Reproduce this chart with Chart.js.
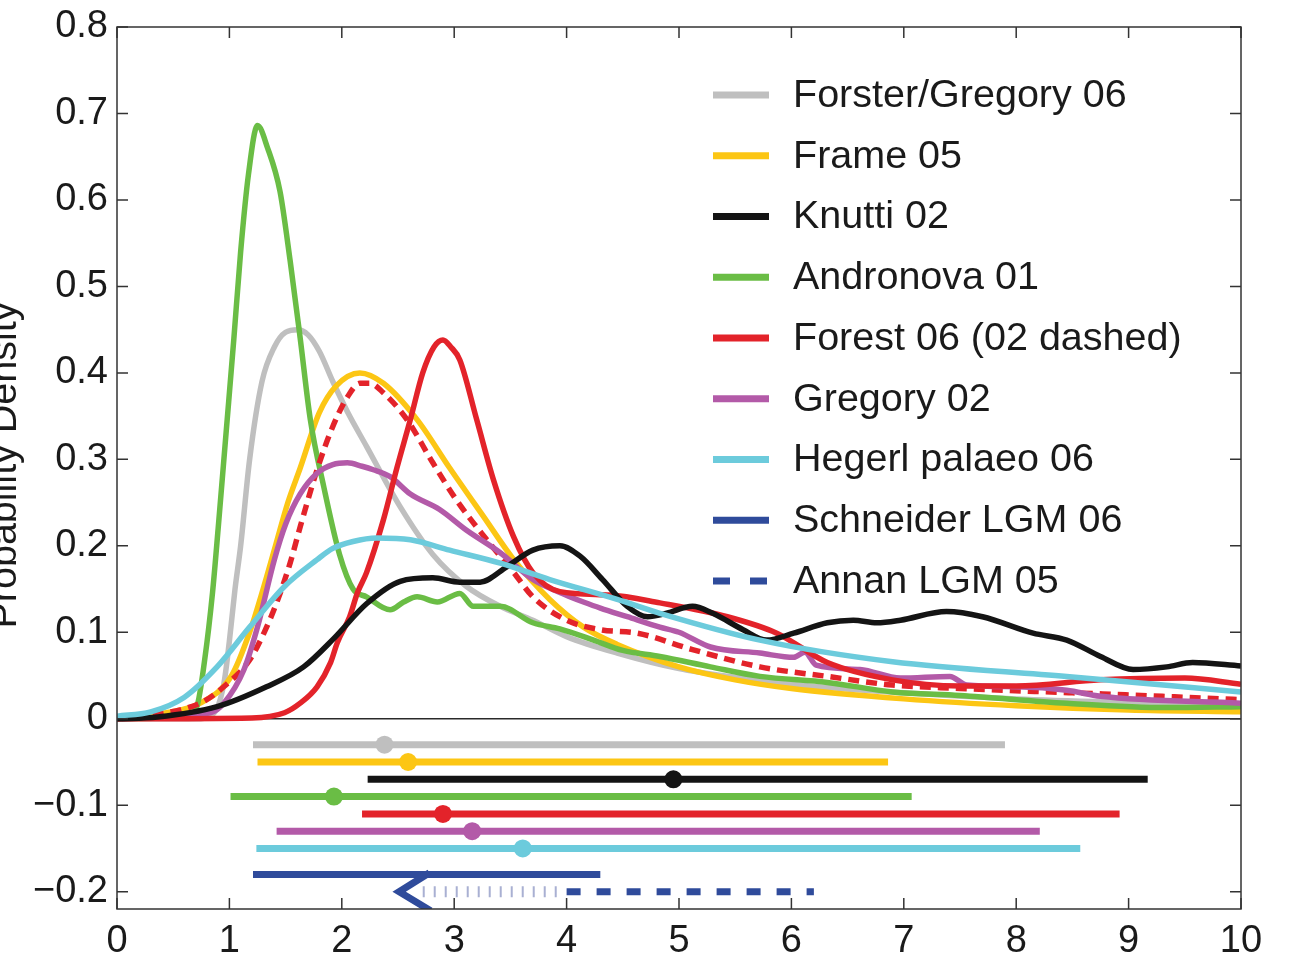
<!DOCTYPE html>
<html>
<head>
<meta charset="utf-8">
<script src="https://cdn.jsdelivr.net/npm/chart.js@4.4.0/dist/chart.umd.min.js"></script>
<style>
  html, body { margin: 0; padding: 0; background: #fff; }
</style>
</head>
<body>
<canvas id="pdfChart" width="1316" height="956"></canvas>
<script>
// Achsen-Ticks
const xTickValues = [0, 1, 2, 3, 4, 5, 6, 7, 8, 9, 10];
const yTickValues = [-0.2, -0.1, 0, 0.1, 0.2, 0.3, 0.4, 0.5, 0.6, 0.7, 0.8];

// Forster/Gregory 06 (grau)
const forsterX = [0, 0.7, 0.85, 0.95, 1.0, 1.05, 1.1, 1.18, 1.29, 1.4, 1.5, 1.61, 1.7, 1.8, 1.92, 2.05, 2.22, 2.52, 2.81, 3.11, 3.41, 3.7, 4.0, 4.45, 5.0, 5.5, 6.0, 7.0, 8.0, 9.0, 10];
const forsterY = [0, 0, 0.005, 0.04, 0.09, 0.15, 0.2, 0.3, 0.39, 0.43, 0.447, 0.45, 0.444, 0.425, 0.39, 0.355, 0.315, 0.245, 0.19, 0.153, 0.13, 0.114, 0.095, 0.076, 0.058, 0.048, 0.04, 0.03, 0.023, 0.019, 0.016];

// Frame 05 (gelb)
const frameX = [0, 0.44, 0.74, 1.02, 1.18, 1.3, 1.41, 1.52, 1.63, 1.8, 1.95, 2.16, 2.37, 2.67, 2.96, 3.26, 3.53, 3.85, 4.15, 4.45, 5.0, 5.5, 6.0, 7.0, 8.0, 9.0, 10];
const frameY = [0, 0.007, 0.018, 0.05, 0.1, 0.15, 0.2, 0.25, 0.29, 0.354, 0.385, 0.4, 0.388, 0.346, 0.29, 0.234, 0.184, 0.138, 0.106, 0.086, 0.06, 0.045, 0.035, 0.023, 0.015, 0.01, 0.008];

// Knutti 02 (schwarz)
const knuttiX = [0, 0.36, 0.89, 1.33, 1.66, 1.93, 2.22, 2.52, 2.81, 3.05, 3.23, 3.47, 3.7, 3.94, 4.12, 4.32, 4.54, 4.72, 4.89, 5.12, 5.3, 5.57, 5.78, 6.02, 6.32, 6.55, 6.76, 6.97, 7.38, 7.7, 8.15, 8.45, 8.75, 9.04, 9.34, 9.57, 10];
const knuttiY = [0, 0.002, 0.014, 0.037, 0.06, 0.093, 0.133, 0.159, 0.163, 0.158, 0.158, 0.176, 0.195, 0.2, 0.188, 0.161, 0.13, 0.118, 0.122, 0.13, 0.122, 0.103, 0.091, 0.099, 0.111, 0.114, 0.111, 0.114, 0.124, 0.118, 0.099, 0.091, 0.072, 0.057, 0.06, 0.065, 0.061];

// Andronova 01 (grün)
const andronovaX = [0, 0.6, 0.71, 0.78, 0.85, 0.9, 0.97, 1.04, 1.1, 1.17, 1.25, 1.34, 1.45, 1.54, 1.63, 1.72, 1.84, 1.98, 2.1, 2.22, 2.43, 2.55, 2.67, 2.85, 3.05, 3.17, 3.41, 3.7, 3.94, 4.24, 4.5, 4.83, 5.28, 5.72, 6.32, 6.9, 7.5, 8.45, 9.34, 10];
const andronovaY = [0, 0.002, 0.014, 0.068, 0.146, 0.22, 0.33, 0.44, 0.54, 0.63, 0.686, 0.66, 0.61, 0.53, 0.44, 0.346, 0.268, 0.19, 0.15, 0.141, 0.126, 0.135, 0.141, 0.135, 0.145, 0.13, 0.13, 0.111, 0.104, 0.091, 0.079, 0.072, 0.06, 0.049, 0.042, 0.031, 0.027, 0.018, 0.013, 0.014];

// Forest 06 (rot, durchgezogen)
const forest06X = [0, 1.2, 1.49, 1.63, 1.78, 1.9, 1.96, 2.07, 2.14, 2.22, 2.37, 2.49, 2.61, 2.72, 2.82, 2.9, 2.97, 3.05, 3.2, 3.35, 3.53, 3.7, 3.94, 4.39, 4.83, 5.43, 5.87, 6.32, 6.9, 7.5, 8.0, 8.75, 9.5, 10];
const forest06Y = [0, 0.001, 0.007, 0.018, 0.037, 0.065, 0.088, 0.118, 0.146, 0.169, 0.23, 0.29, 0.346, 0.4, 0.43, 0.438, 0.43, 0.415, 0.346, 0.276, 0.21, 0.169, 0.147, 0.143, 0.134, 0.118, 0.099, 0.065, 0.045, 0.038, 0.038, 0.045, 0.047, 0.04];

// Forest 02 (rot, gestrichelt)
const forest02X = [0, 0.74, 0.95, 1.18, 1.31, 1.42, 1.54, 1.63, 1.78, 1.92, 2.05, 2.16, 2.25, 2.37, 2.58, 2.81, 3.02, 3.29, 3.53, 3.7, 4.0, 4.3, 4.63, 5.12, 5.72, 6.32, 6.9, 7.5, 8.5, 9.3, 10];
const forest02Y = [0, 0.018, 0.037, 0.068, 0.1, 0.134, 0.18, 0.222, 0.288, 0.338, 0.372, 0.388, 0.388, 0.377, 0.346, 0.296, 0.253, 0.207, 0.169, 0.141, 0.114, 0.103, 0.099, 0.08, 0.06, 0.049, 0.039, 0.035, 0.03, 0.026, 0.022];

// Gregory 02 (lila)
const gregoryX = [0, 0.83, 0.95, 1.13, 1.25, 1.4, 1.5, 1.63, 1.78, 1.92, 2.05, 2.18, 2.28, 2.43, 2.61, 2.87, 3.11, 3.41, 3.7, 3.94, 4.05, 4.15, 4.3, 4.54, 4.83, 5.0, 5.28, 5.72, 6.02, 6.12, 6.22, 6.61, 6.97, 7.41, 7.56, 8.0, 8.45, 8.75, 10];
const gregoryY = [0, 0.007, 0.018, 0.057, 0.106, 0.184, 0.225, 0.26, 0.284, 0.294, 0.296, 0.292, 0.288, 0.28, 0.26, 0.242, 0.218, 0.192, 0.161, 0.146, 0.14, 0.135, 0.128, 0.118, 0.106, 0.1, 0.083, 0.076, 0.071, 0.077, 0.062, 0.057, 0.047, 0.049, 0.039, 0.037, 0.033, 0.026, 0.018];

// Hegerl palaeo 06 (cyan)
const hegerlX = [0, 0.3, 0.6, 0.89, 1.18, 1.49, 1.78, 1.92, 2.1, 2.31, 2.61, 2.96, 3.41, 3.85, 4.45, 4.83, 5.72, 6.9, 8.45, 10];
const hegerlY = [0.003, 0.008, 0.025, 0.06, 0.106, 0.153, 0.184, 0.197, 0.205, 0.209, 0.207, 0.195, 0.18, 0.161, 0.138, 0.122, 0.091, 0.066, 0.049, 0.031];

// Bereiche (5-95 %) und Median unterhalb der Null-Linie
const rangeLevel = [-0.03, -0.05, -0.07, -0.09, -0.11, -0.13, -0.15, -0.18];
const rangeLow   = [1.21, 1.25, 2.23, 1.01, 2.18, 1.42, 1.24, 1.21];
const rangeBest  = [2.38, 2.59, 4.95, 1.93, 2.90, 3.16, 3.61, null];
const rangeHigh  = [7.90, 6.86, 9.17, 7.07, 8.92, 8.21, 8.57, 4.30];

// Annan LGM 05: Pfeil, gepunktet, gestrichelt
const annanLevel = -0.20;
const annanDottedX = [2.72, 3.95];
const annanDashedX = [4.0, 6.2];
const arrowX = [2.78, 2.51, 2.79];
const arrowY = [-0.178, -0.200, -0.222];

const legendLabels = ['Forster/Gregory 06', 'Frame 05', 'Knutti 02', 'Andronova 01', 'Forest 06 (02 dashed)', 'Gregory 02', 'Hegerl palaeo 06', 'Schneider LGM 06', 'Annan LGM 05'];
const colors = ['#bfbfbf', '#fcc614', '#141414', '#6abd45', '#e3232a', '#b35aa8', '#6ccbdc', '#2f4b9b', '#2f4b9b'];

const FONT = '"Liberation Sans", Arial, Helvetica, sans-serif';
Chart.defaults.font.family = FONT;

function pts(xs, ys) {
    return xs.map((x, i) => ({ x: x, y: ys[i] }));
}

function curve(xs, ys, color, order, dash) {
    return {
        data: pts(xs, ys),
        showLine: true,
        borderColor: color,
        borderWidth: 5.5,
        borderDash: dash || [],
        pointRadius: 0,
        cubicInterpolationMode: 'monotone',
        order: order
    };
}

const datasets = [
    curve(forsterX, forsterY, colors[0], 20),
    curve(frameX, frameY, colors[1], 19),
    curve(andronovaX, andronovaY, colors[3], 18),
    curve(forest02X, forest02Y, colors[4], 17, [11, 7]),
    curve(gregoryX, gregoryY, colors[5], 16),
    curve(forest06X, forest06Y, colors[4], 15),
    curve(knuttiX, knuttiY, colors[2], 14),
    curve(hegerlX, hegerlY, colors[6], 13)
];

// Balken mit Median-Punkt
rangeLevel.forEach(function(lvl, i) {
    const data = [{ x: rangeLow[i], y: lvl }];
    const radius = [0];
    if (rangeBest[i] !== null) {
        data.push({ x: rangeBest[i], y: lvl });
        radius.push(9);
    }
    data.push({ x: rangeHigh[i], y: lvl });
    radius.push(0);
    datasets.push({
        data: data,
        showLine: true,
        borderColor: colors[i],
        backgroundColor: colors[i],
        borderWidth: 7,
        borderCapStyle: 'butt',
        pointRadius: radius,
        pointBorderWidth: 0,
        pointBackgroundColor: colors[i],
        tension: 0,
        order: 5
    });
});

// Annan LGM 05
datasets.push({
    data: pts(annanDottedX, [annanLevel, annanLevel]),
    showLine: true,
    borderColor: '#a9b0d2',
    borderWidth: 11,
    borderDash: [2, 9],
    pointRadius: 0,
    order: 6
});
datasets.push({
    data: pts(annanDashedX, [annanLevel, annanLevel]),
    showLine: true,
    borderColor: colors[8],
    borderWidth: 7,
    borderDash: [14, 16],
    pointRadius: 0,
    order: 5
});
datasets.push({
    data: pts(arrowX, arrowY),
    showLine: true,
    borderColor: colors[7],
    borderWidth: 7,
    pointRadius: 0,
    tension: 0,
    order: 4
});

// Rahmen, Null-Linie, Innen-Ticks, Legende, y-Titel
const matlabFrame = {
    id: 'matlabFrame',
    beforeDatasetsDraw(chart) {
        const ctx = chart.ctx;
        const a = chart.chartArea;
        const y0 = chart.scales.y.getPixelForValue(0);
        ctx.save();
        ctx.strokeStyle = '#2a2a2a';
        ctx.lineWidth = 1.5;
        ctx.beginPath();
        ctx.moveTo(a.left, y0);
        ctx.lineTo(a.right, y0);
        ctx.stroke();
        ctx.restore();
    },
    afterDraw(chart) {
        const ctx = chart.ctx;
        const a = chart.chartArea;
        const xs = chart.scales.x;
        const ys = chart.scales.y;
        const tick = 11;
        ctx.save();
        ctx.strokeStyle = '#333';
        ctx.lineWidth = 1.5;
        ctx.strokeRect(a.left, a.top, a.right - a.left, a.bottom - a.top);
        ctx.beginPath();
        xTickValues.forEach(function(v) {
            const px = xs.getPixelForValue(v);
            ctx.moveTo(px, a.bottom); ctx.lineTo(px, a.bottom - tick);
            ctx.moveTo(px, a.top); ctx.lineTo(px, a.top + tick);
        });
        yTickValues.forEach(function(v) {
            const py = ys.getPixelForValue(v);
            ctx.moveTo(a.left, py); ctx.lineTo(a.left + tick, py);
            ctx.moveTo(a.right, py); ctx.lineTo(a.right - tick, py);
        });
        ctx.stroke();

        // Legende
        const lx = a.left + 596;
        const ly = a.top + 68;
        const step = 60.75;
        ctx.font = '39.5px ' + FONT;
        ctx.textBaseline = 'middle';
        ctx.textAlign = 'left';
        legendLabels.forEach(function(label, i) {
            const y = ly + i * step;
            ctx.strokeStyle = colors[i];
            ctx.lineWidth = 7;
            ctx.lineCap = 'butt';
            ctx.setLineDash(i === 8 ? [17, 20] : []);
            ctx.beginPath();
            ctx.moveTo(lx, y);
            ctx.lineTo(lx + 56, y);
            ctx.stroke();
            ctx.setLineDash([]);
            ctx.fillStyle = '#1a1a1a';
            ctx.fillText(label, lx + 80, y + 1);
        });

        // y-Achsentitel (am Rand angeschnitten)
        ctx.translate(16, (a.top + a.bottom) / 2 - 3);
        ctx.rotate(-Math.PI / 2);
        ctx.textAlign = 'center';
        ctx.textBaseline = 'alphabetic';
        ctx.fillStyle = '#1a1a1a';
        ctx.fillText('Probability Density', 0, 0);
        ctx.restore();
    }
};

function initChart() {
    const ctx = document.getElementById('pdfChart').getContext('2d');
    new Chart(ctx, {
        type: 'scatter',
        data: { datasets: datasets },
        options: {
            responsive: false,
            animation: false,
            layout: { padding: { top: 27, right: 75, left: 0, bottom: 0 } },
            plugins: {
                legend: { display: false },
                tooltip: { enabled: false }
            },
            scales: {
                x: {
                    type: 'linear',
                    min: 0,
                    max: 10,
                    afterBuildTicks: function(scale) {
                        scale.ticks = xTickValues.map(v => ({ value: v }));
                    },
                    afterFit: function(scale) {
                        scale.height = 47;
                        scale.paddingLeft = 0;
                        scale.paddingRight = 0;
                    },
                    ticks: {
                        color: '#1a1a1a',
                        font: { size: 38 },
                        padding: 10,
                        maxRotation: 0,
                        autoSkip: false
                    },
                    grid: { display: false, drawTicks: false },
                    border: { display: false }
                },
                y: {
                    type: 'linear',
                    min: -0.22,
                    max: 0.8,
                    afterBuildTicks: function(scale) {
                        scale.ticks = yTickValues.map(v => ({ value: v }));
                    },
                    afterFit: function(scale) {
                        scale.width = 117;
                        scale.paddingTop = 0;
                        scale.paddingBottom = 0;
                    },
                    ticks: {
                        color: '#1a1a1a',
                        font: { size: 38 },
                        padding: 9,
                        autoSkip: false,
                        callback: function(v) {
                            const r = Math.round(v * 10) / 10;
                            if (r === 0) return '0';
                            return (r < 0 ? '\u2212' : '') + Math.abs(r).toFixed(1);
                        }
                    },
                    grid: { display: false, drawTicks: false },
                    border: { display: false }
                }
            }
        },
        plugins: [matlabFrame]
    });
}

initChart();
</script>
</body>
</html>
